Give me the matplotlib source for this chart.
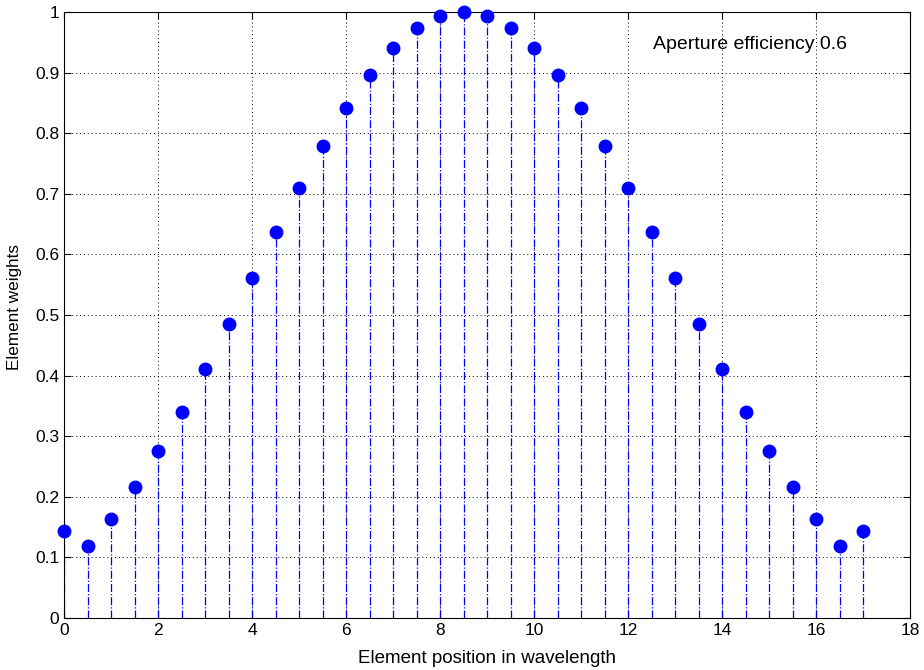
import matplotlib.pyplot as plt

plt.rcParams["font.family"] = ["Liberation Sans", "DejaVu Sans"]

# element positions (in wavelengths) and their taper weights
positions = [0, 0.5, 1, 1.5, 2, 2.5, 3, 3.5, 4, 4.5, 5, 5.5, 6, 6.5, 7, 7.5, 8, 8.5,
             9, 9.5, 10, 10.5, 11, 11.5, 12, 12.5, 13, 13.5, 14, 14.5, 15, 15.5, 16, 16.5, 17]
weights = [0.143, 0.119, 0.164, 0.216, 0.275, 0.340, 0.411, 0.485, 0.561, 0.637,
           0.710, 0.779, 0.842, 0.896, 0.941, 0.974, 0.994, 1.000,
           0.994, 0.974, 0.941, 0.896, 0.842, 0.779, 0.710, 0.637, 0.561, 0.485,
           0.411, 0.340, 0.275, 0.216, 0.164, 0.119, 0.143]
efficiency = 0.6

fig = plt.figure(figsize=(9.24, 6.7), dpi=100)
ax = fig.add_axes([0.0693, 0.0776, 0.9157, 0.9045])

ax.grid(True, color="black", linestyle=(0, (1, 3)), linewidth=0.7, zorder=0)
ax.set_axisbelow(True)

ml, sl, bl = ax.stem(positions, weights, linefmt="b-.", markerfmt="bo", basefmt=" ")
plt.setp(sl, linewidth=0.9, color="blue", zorder=2)
plt.setp(ml, markersize=9, markerfacecolor="blue", markeredgecolor="blue",
         zorder=3, clip_on=False)

ax.set_xlim(0, 18)
ax.set_ylim(0, 1)
ax.set_xticks(range(0, 19, 2))
ax.set_yticks([i / 10 for i in range(11)])
ax.set_yticklabels(["0", "0.1", "0.2", "0.3", "0.4", "0.5", "0.6", "0.7", "0.8", "0.9", "1"])
ax.tick_params(direction="in", labelsize=12.5, length=5, top=True, right=True)

ax.set_xlabel("Element position in wavelength", fontsize=13.5, labelpad=9)
ax.set_ylabel("Element weights", fontsize=12.3, labelpad=1)
ax.yaxis.set_label_coords(-0.05, 0.513)

ax.text(12.53, 0.946, "Aperture efficiency %.1f" % efficiency, fontsize=14, va="center")

fig.savefig("out.png", dpi=100)
